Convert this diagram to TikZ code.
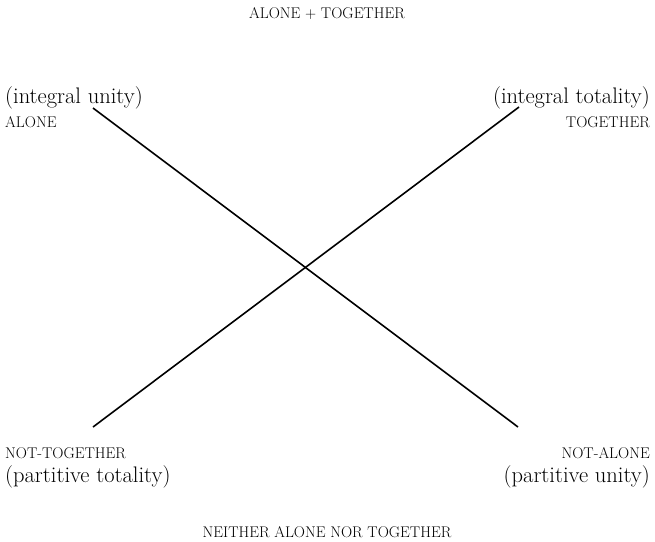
\documentclass[tikz,border=0pt]{standalone}
\begin{document}
\begin{tikzpicture}[x=1pt,y=-1pt,
  big/.style={inner sep=0pt,font=\fontsize{22.5}{24}\selectfont},
  caps/.style={inner sep=0pt,font=\fontsize{15.5}{17}\selectfont},
  stroke/.style={line width=1.6pt}]
\useasboundingbox (0,0) rectangle (655,541);
\node[caps] (top) at (327,14) {ALONE + TOGETHER};
\node[big,anchor=west] (iu) at (5,98) {(integral unity)};
\node[caps,anchor=west] (al) at (5,122) {ALONE};
\node[big,anchor=east] (it) at (650,98) {(integral totality)};
\node[caps,anchor=east] (tg) at (650,122) {TOGETHER};
\node[caps,anchor=west] (nt) at (5,453) {NOT-TOGETHER};
\node[big,anchor=west] (pt) at (5,477) {(partitive totality)};
\node[caps,anchor=east] (na) at (650,453) {NOT-ALONE};
\node[big,anchor=east] (pu) at (650,477) {(partitive unity)};
\node[caps] (bot) at (327,532) {NEITHER ALONE NOR TOGETHER};
\coordinate (a) at (93,108);
\coordinate (b) at (518,427);
\coordinate (c) at (519,107);
\coordinate (d) at (93,427);
\draw[stroke] (a) -- (b);
\draw[stroke] (c) -- (d);
\end{tikzpicture}
\end{document}
